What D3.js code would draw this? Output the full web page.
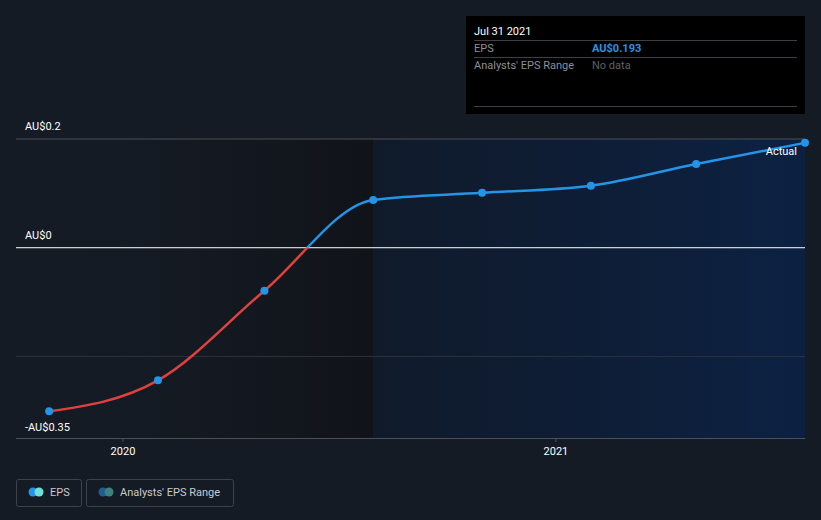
<!DOCTYPE html>
<html><head><meta charset="utf-8">
<script src="https://cdn.jsdelivr.net/npm/d3@7"></script>
<style>
body{margin:0;background:#151b25;}
svg{display:block;font-family:Roboto,"Noto Sans",sans-serif;}
</style></head>
<body><svg id="c" width="821" height="520"></svg>
<script>
const dates = ["2019-10-31","2020-01-31","2020-04-30","2020-07-31","2020-10-31","2021-01-31","2021-04-30","2021-07-31"];
const eps = [-0.301, -0.244, -0.079, 0.088, 0.101, 0.114, 0.154, 0.193];
const yTicks = [0.2, 0, -0.2];
const yTickLabels = ["AU$0.2", "AU$0", ""];
const bottomLabel = "-AU$0.35";
const xTickYears = [2020, 2021];

const parse = d3.utcParse("%Y-%m-%d");
const data = dates.map((d,i)=>({date:parse(d), v:eps[i]}));
const svg = d3.select("#c");
const L=16, R=805, T=139, B=438;
const x = d3.scaleUtc().domain([new Date(Date.UTC(2019,9,3)), parse("2021-07-31")]).range([L,R]);
const y = d3.scaleLinear().domain([-0.35,0.2]).range([B,T]);

const defs = svg.append("defs");
const g1 = defs.append("linearGradient").attr("id","gl").attr("x1","0").attr("x2","1");
g1.append("stop").attr("offset","0").attr("stop-color","#151b25").attr("stop-opacity",0);
g1.append("stop").attr("offset","1").attr("stop-color","#101318").attr("stop-opacity",1);
const g2 = defs.append("linearGradient").attr("id","gr").attr("x1","0").attr("x2","1");
g2.append("stop").attr("offset","0").attr("stop-color","#101a2a");
g2.append("stop").attr("offset","1").attr("stop-color","#0c2142");

const splitX = x(parse("2020-07-31"));
svg.append("rect").attr("x",L).attr("y",T).attr("width",splitX-L).attr("height",B-T).attr("fill","url(#gl)");
svg.append("rect").attr("x",splitX).attr("y",T).attr("width",R-splitX).attr("height",B-T).attr("fill","url(#gr)");

// gridlines
yTicks.forEach((t,i)=>{
  svg.append("line").attr("x1",L).attr("x2",R).attr("y1",y(t)).attr("y2",y(t))
    .attr("stroke", t===0 ? "#ffffff" : (t===0.2 ? "#4a4f5a" : "#2c323d")).attr("stroke-width",1);
  if(yTickLabels[i]) svg.append("text").attr("x",25).attr("y",y(t)-9).attr("fill","#ffffff")
    .attr("font-size",11).text(yTickLabels[i]);
});
svg.append("text").attr("x",25).attr("y",431).attr("fill","#ffffff").attr("font-size",11).text(bottomLabel);

// x axis
const xAxis = d3.axisBottom(x).tickValues(xTickYears.map(yv=>new Date(Date.UTC(yv,0,1))))
  .tickFormat(d3.utcFormat("%Y")).tickSize(4).tickPadding(5);
const ax = svg.append("g").attr("transform",`translate(0,${B})`).call(xAxis);
ax.select(".domain").attr("stroke","#4a4f5a").attr("d",`M${L},0.5H${R}`);
ax.selectAll(".tick line").attr("stroke","#4a4f5a");
ax.selectAll(".tick text").attr("fill","#ffffff").attr("font-size",11).attr("font-family","Roboto,sans-serif");

// line split by sign
const line = d3.line().x(d=>x(d.date)).y(d=>y(d.v)).curve(d3.curveMonotoneX);
const y0 = y(0);
defs.append("clipPath").attr("id","above").append("rect").attr("x",0).attr("y",0).attr("width",821).attr("height",y0);
defs.append("clipPath").attr("id","below").append("rect").attr("x",0).attr("y",y0).attr("width",821).attr("height",520-y0);
svg.append("path").datum(data).attr("d",line).attr("fill","none").attr("stroke","#e0413f").attr("stroke-width",2.5).attr("clip-path","url(#below)");
svg.append("path").datum(data).attr("d",line).attr("fill","none").attr("stroke","#2394e6").attr("stroke-width",2.5).attr("clip-path","url(#above)");
svg.selectAll("circle.pt").data(data).join("circle").attr("class","pt")
  .attr("cx",d=>x(d.date)).attr("cy",d=>y(d.v)).attr("r",4).attr("fill","#2394e6");

svg.append("text").attr("x",797).attr("y",155).attr("text-anchor","end").attr("fill","#ffffff").attr("font-size",11).text("Actual");

// tooltip
const tt = svg.append("g");
tt.append("rect").attr("x",466).attr("y",16).attr("width",339).attr("height",98).attr("fill","#000000");
tt.append("text").attr("x",474).attr("y",35).attr("fill","#ffffff").attr("font-size",11).text("Jul 31 2021");
[40,57,106].forEach(yy=>tt.append("line").attr("x1",474).attr("x2",797).attr("y1",yy+0.5).attr("y2",yy+0.5).attr("stroke","#3d3f44"));
tt.append("text").attr("x",474).attr("y",52).attr("fill","#8c8f95").attr("font-size",11).text("EPS");
tt.append("text").attr("x",592).attr("y",52).attr("fill","#2394e6").attr("font-size",11).attr("font-weight","bold").text("AU$" + eps[eps.length-1].toFixed(3));
tt.append("text").attr("x",474).attr("y",69).attr("fill","#8c8f95").attr("font-size",11).text("Analysts' EPS Range");
tt.append("text").attr("x",592).attr("y",69).attr("fill","#5d6066").attr("font-size",11).text("No data");

// legend
const lg = svg.append("g");
lg.append("rect").attr("x",16.5).attr("y",479.5).attr("width",65).attr("height",27).attr("rx",2).attr("fill","none").attr("stroke","#3d424c");
lg.append("circle").attr("cx",33).attr("cy",492).attr("r",4.5).attr("fill","#2394e6");
lg.append("circle").attr("cx",39).attr("cy",492).attr("r",4.5).attr("fill","#6fe0d8");
lg.append("text").attr("x",50).attr("y",496).attr("fill","#c8cacd").attr("font-size",11).text("EPS");
lg.append("rect").attr("x",86.5).attr("y",479.5).attr("width",147).attr("height",27).attr("rx",2).attr("fill","none").attr("stroke","#3d424c");
lg.append("circle").attr("cx",103).attr("cy",492).attr("r",4.5).attr("fill","#1f5f8e");
lg.append("circle").attr("cx",109).attr("cy",492).attr("r",4.5).attr("fill","#3f8080");
lg.append("text").attr("x",120).attr("y",496).attr("fill","#c8cacd").attr("font-size",11).text("Analysts' EPS Range");
</script></body></html>
